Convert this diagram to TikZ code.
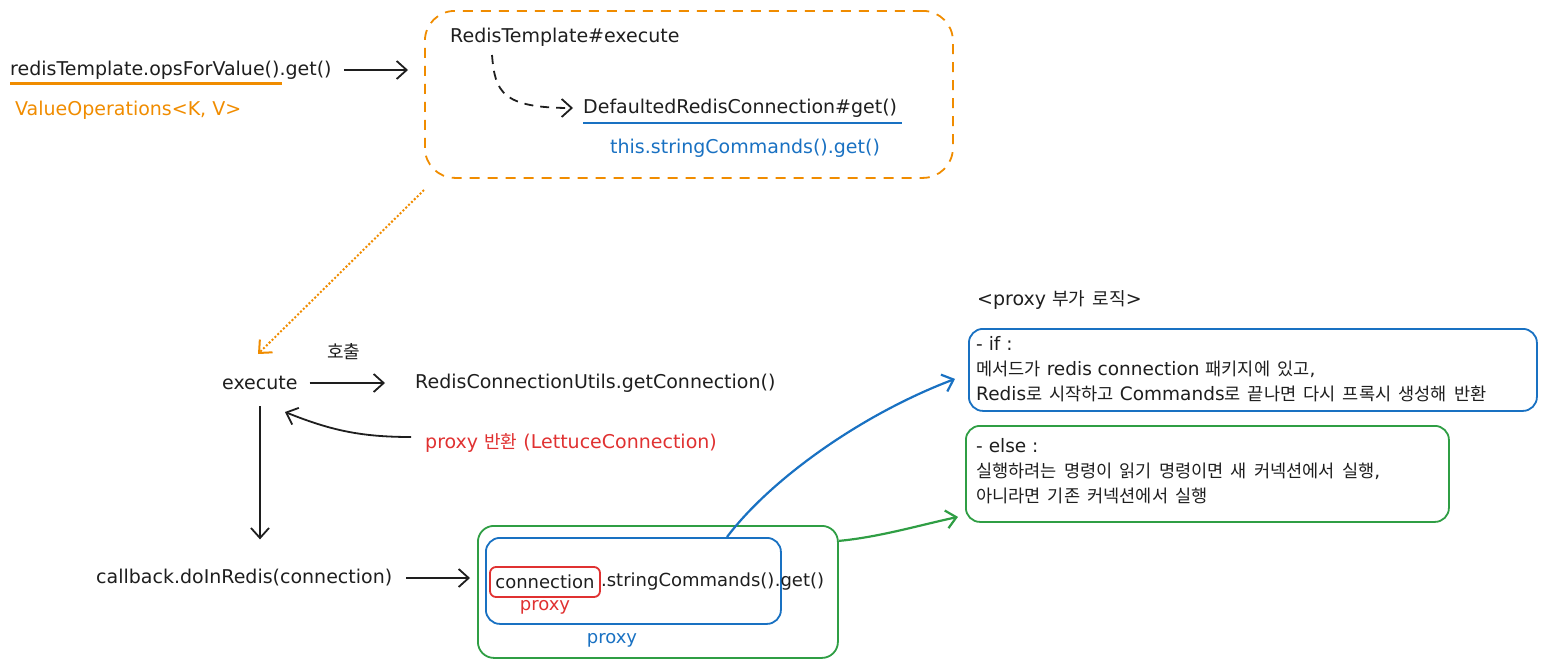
\documentclass[tikz,border=0pt]{standalone}
\usepackage{fontspec}
\setmainfont{DejaVu Sans}
\newfontfamily\krfont{Noto Sans CJK KR}[Scale=0.95,WordSpace=1.8]
\newcommand\kr[1]{{\krfont #1}}
\usetikzlibrary{arrows.meta}
\definecolor{ink}{HTML}{1E1E1E}
\definecolor{exorange}{HTML}{F08C00}
\definecolor{exblue}{HTML}{1971C2}
\definecolor{exred}{HTML}{E03131}
\definecolor{exgreen}{HTML}{2F9E44}
\tikzset{
  txt/.style={inner sep=0pt, anchor=west, font=\fontsize{19}{24}\selectfont, text=ink},
  smalltxt/.style={txt, font=\fontsize{18}{24}\selectfont},
  boxtxt/.style={inner sep=0pt, anchor=north west, align=left, font=\fontsize{18.5}{25}\selectfont, text=ink},
  tip/.style={-{Straight Barb[length=10pt,width=18pt,line width=1.8pt]}},
  arr/.style={draw=ink, line width=1.8pt, tip},
  frame/.style={draw, line width=1.8pt, rounded corners=16pt, inner sep=0pt, anchor=north west},
}
\begin{document}
\begin{tikzpicture}[x=1pt,y=-1pt]
\useasboundingbox (0,0) rectangle (1546,667);

% top-left
\node[txt] (rtov) at (10,70) {redisTemplate.opsForValue().get()};
\node[txt, text=exorange] (vops) at (15,110) {ValueOperations<K, V>};
\coordinate (ul1) at (10,83);
\coordinate (ul2) at (282,83);
\draw[exorange, line width=3pt] (ul1) -- (ul2);

% orange dashed box
\node[frame, draw=exorange, dashed, dash pattern=on 10pt off 8pt, rounded corners=30pt,
      minimum width=528pt, minimum height=167pt] (ob) at (424,10) {};
\coordinate (a1e) at (408,70);
\draw[arr] ([xshift=12pt]rtov.east) -- (a1e);

\node[txt] (rte) at (450,37) {RedisTemplate\#execute};
\node[txt] (drc) at (583,108) {DefaultedRedisConnection\#get()};
\coordinate (ul3) at (583,123);
\coordinate (ul4) at (902,123);
\draw[exblue, line width=2.4pt] (ul3) -- (ul4);
\node[txt, text=exblue] (scg) at (610,148) {this.stringCommands().get()};
\coordinate (d1) at (492,55);
\draw[arr, dashed, dash pattern=on 9pt off 7pt] (d1) .. controls (495,92) and (502,108) .. ([xshift=-10pt]drc.west);

% dotted orange arrow
\coordinate (o1) at (424,190);
\coordinate (o2) at (258,354);
\node[txt] (exe) at (222,383) {execute};
\draw[exorange, line width=2pt, dotted, -{Straight Barb[length=10pt,width=18pt,line width=2pt]}] (o1) -- (o2);

\node[txt] (call) at (327,352) {\kr{호출}};
\node[txt] (rcu) at (415,383) {RedisConnectionUtils.getConnection()};
\draw[arr] ([xshift=12pt]exe.east) -- ([xshift=-30pt]rcu.west);

\node[txt, text=exred] (pret) at (425,443) {proxy \kr{반환} (LettuceConnection)};
\draw[arr] ([xshift=-14pt,yshift=6pt]pret.west) .. controls (360,437) and (330,430) .. (285,412);

\node[txt] (cb) at (96,578) {callback.doInRedis(connection)};
\draw[arr] ([yshift=-16pt]exe.south -| 260,0) -- ([yshift=30pt]cb.north -| 260,0);

% bottom boxes
\node[frame, draw=exgreen, minimum width=360pt, minimum height=132pt] (gbox) at (477,525) {};
\node[frame, draw=exblue, minimum width=295pt, minimum height=86pt, rounded corners=14pt] (bbox) at (485,537) {};
\node[draw=exred, line width=1.8pt, rounded corners=6pt, inner sep=0pt,
      minimum width=110pt, minimum height=30pt] (rbox) at (545,582) {};
\node[smalltxt, anchor=center] (conn) at (rbox.center) {connection};
\node[smalltxt, anchor=west] (strc) at (rbox.east) {.stringCommands()};
\node[smalltxt, anchor=west] (getc) at (strc.east) {.get()};
\node[smalltxt, text=exred, anchor=center] (px1) at (545,607) {proxy};
\node[smalltxt, text=exblue, anchor=center] (px2) at (612,640) {proxy};
\draw[arr] ([xshift=14pt]cb.east) -- ([xshift=-7pt]gbox.west |- cb.east);

% right side
\node[txt] (plog) at (977,300) {<proxy \kr{부가 로직}>};
\node[frame, draw=exblue, minimum width=568pt, minimum height=82pt, rounded corners=14pt] (ifb) at (968,328) {};
\node[boxtxt] (ift) at (976,336) {- if :\\\kr{메서드가} redis connection \kr{패키지에 있고},\\Redis\kr{로 시작하고} Commands\kr{로 끝나면 다시 프록시 생성해 반환}};
\node[frame, draw=exgreen, minimum width=483pt, minimum height=96pt, rounded corners=14pt] (elb) at (965,425) {};
\node[boxtxt] (elt) at (976,438) {- else :\\\kr{실행하려는 명령이 읽기 명령이면 새 커넥션에서 실행},\\\kr{아니라면 기존 커넥션에서 실행}};

\draw[draw=exblue, line width=2.2pt, -{Straight Barb[length=10pt,width=18pt,line width=2.2pt]}]
  (727,537) .. controls (770,480) and (860,415) .. ([xshift=-13pt,yshift=-9pt]ifb.west);
\draw[draw=exgreen, line width=2.2pt, -{Straight Barb[length=10pt,width=18pt,line width=2.2pt]}]
  ([yshift=51pt]gbox.east) .. controls (880,537) and (920,525) .. ([xshift=-7pt,yshift=-43pt]elb.west);
\end{tikzpicture}
\end{document}
